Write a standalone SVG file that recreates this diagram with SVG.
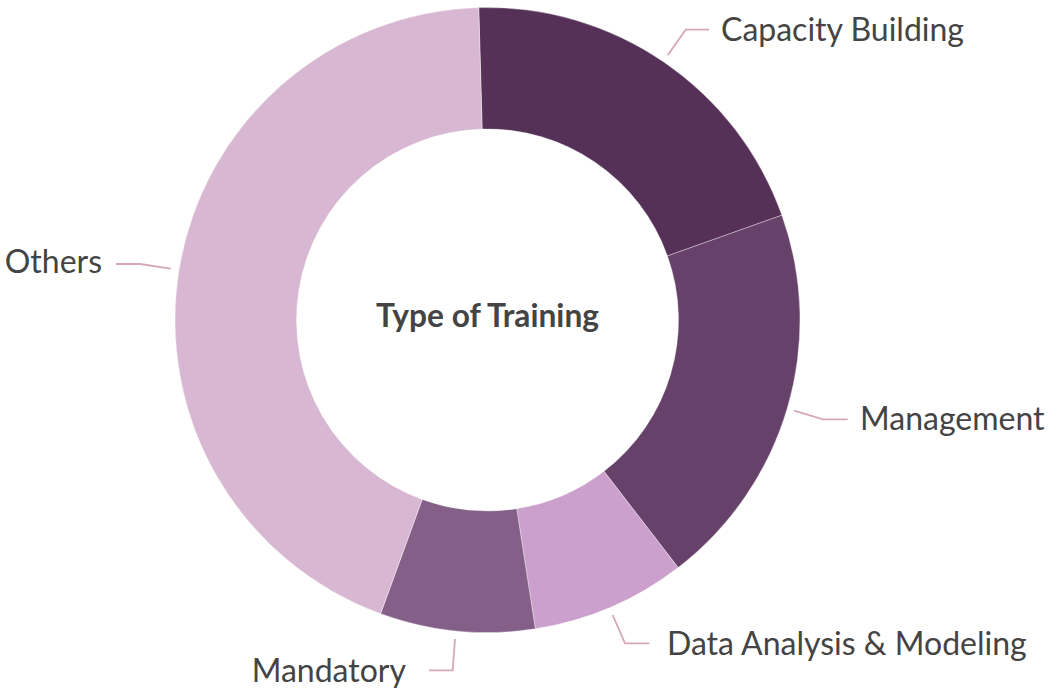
<svg xmlns="http://www.w3.org/2000/svg" width="1061" height="689" viewBox="0 0 1061 689">
<style>
.slice{stroke:#ffffff;stroke-width:0.5;stroke-opacity:0.7;stroke-linejoin:round}
.lead{fill:none;stroke:#d6a8b6;stroke-width:1.8}
.lbl{font-family:Lato,"Open Sans",sans-serif;font-size:32px;fill:#444444}
.title{font-family:Lato,"Open Sans",sans-serif;font-size:31.7px;font-weight:bold;fill:#444444}
</style>
<rect width="1061" height="689" fill="#ffffff"/>
<g id="node-capacity-building">
<path class="slice" fill="#553057" d="M478.775 7.622 A312.5 312.5 0 0 1 781.894 215.172 L667.433 255.929 A191 191 0 0 0 482.167 129.074 Z"/>
<text class="lbl" x="721" y="41">Capacity Building</text>
</g>
<g id="node-management">
<path class="slice" fill="#66426a" d="M781.894 215.172 A312.5 312.5 0 0 1 678.156 567.6 L604.029 471.333 A191 191 0 0 0 667.433 255.929 Z"/>
<text class="lbl" x="860" y="429.5">Management</text>
</g>
<g id="node-data-analysis">
<path class="slice" fill="#cba0cc" d="M678.156 567.6 A312.5 312.5 0 0 1 535.309 628.822 L516.721 508.752 A191 191 0 0 0 604.029 471.333 Z"/>
<text class="lbl" x="667" y="654.5">Data Analysis &amp; Modeling</text>
</g>
<g id="node-mandatory">
<path class="slice" fill="#845f88" d="M535.309 628.822 A312.5 312.5 0 0 1 380.619 613.653 L422.174 499.481 A191 191 0 0 0 516.721 508.752 Z"/>
<text class="lbl" x="406" y="681.5" text-anchor="end">Mandatory</text>
</g>
<g id="node-others">
<path class="slice" fill="#d8b7d3" d="M380.619 613.653 A312.5 312.5 0 0 1 478.775 7.622 L482.167 129.074 A191 191 0 0 0 422.174 499.481 Z"/>
<text class="lbl" x="102" y="272.5" text-anchor="end">Others</text>
</g>
<g id="center-title">
<text class="title" x="487.5" y="327" text-anchor="middle">Type of Training</text>
</g>
<g id="connectors">
<polyline class="lead" points="667.7,55.3 685.7,29.7 709,29.7"/>
<polyline class="lead" points="794,410.7 823,419.3 847.7,419.3"/>
<polyline class="lead" points="612.7,615 625,643.3 649.3,643.3"/>
<polyline class="lead" points="455,639 452.7,670.3 429,670.3"/>
<polyline class="lead" points="170.7,268.7 140,264 116,264"/>
</g>
</svg>
